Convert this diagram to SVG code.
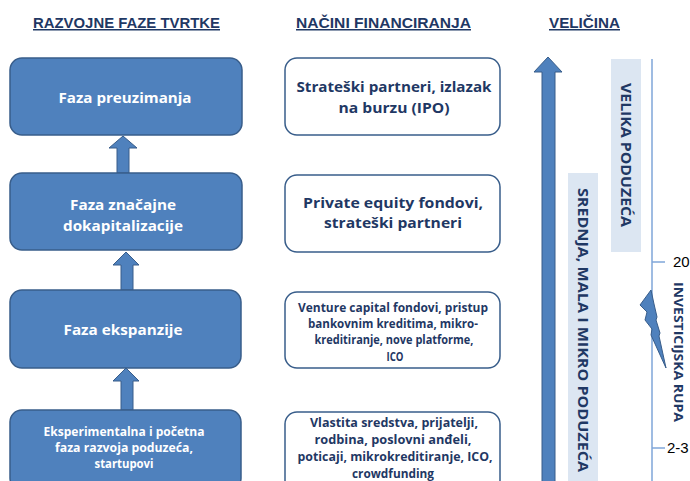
<svg xmlns="http://www.w3.org/2000/svg" width="690" height="481" viewBox="0 0 690 481">
<style>
.title{font-family:"Liberation Sans",Arial,sans-serif;font-weight:bold;font-size:15px;fill:#1F3864;text-decoration:underline;}
.phase{fill:#4F81BD;stroke:#385D8A;stroke-width:1.5;}
.fin{fill:#FFFFFF;stroke:#385D8A;stroke-width:1.5;}
.wt{font-family:"Open Sans","Liberation Sans",sans-serif;font-weight:bold;fill:#FFFFFF;text-anchor:middle;}
.bt{font-family:"Open Sans","Liberation Sans",sans-serif;font-weight:bold;fill:#1F3864;text-anchor:middle;}
.arrow{fill:#4F81BD;stroke:#385D8A;stroke-width:1;}
.band{fill:#DCE6F2;}
.vt{font-family:"Open Sans","Liberation Sans",sans-serif;font-weight:bold;fill:#1F3864;}
.num{font-family:"Liberation Sans",Arial,sans-serif;font-size:15px;fill:#000000;}
</style>

<g id="titles">
<text class="title" x="33" y="28" textLength="187" lengthAdjust="spacingAndGlyphs">RAZVOJNE FAZE TVRTKE</text>
<text class="title" x="296" y="28" textLength="175" lengthAdjust="spacingAndGlyphs">NAČINI FINANCIRANJA</text>
<text class="title" x="549" y="28" textLength="71" lengthAdjust="spacingAndGlyphs">VELIČINA</text>
</g>

<g id="connectors">
<polygon class="arrow" points="117,173 117,148 109,148 123,136 137,148 129,148 129,173"/>
<polygon class="arrow" points="121,290 121,265 113,265 126,252 139,265 133,265 133,290"/>
<polygon class="arrow" points="121,410 121,381 113,381 126,368 139,381 133,381 133,410"/>
</g>

<g id="phase1">
<rect class="phase" x="10" y="58" width="232" height="77" rx="12"/>
<text class="wt" x="125" y="103" font-size="15" textLength="133" lengthAdjust="spacingAndGlyphs">Faza preuzimanja</text>
</g>
<g id="phase2">
<rect class="phase" x="10" y="173" width="232" height="77" rx="12"/>
<text class="wt" x="123" y="210" font-size="15" textLength="106" lengthAdjust="spacingAndGlyphs">Faza značajne</text>
<text class="wt" x="123" y="231" font-size="15" textLength="120" lengthAdjust="spacingAndGlyphs">dokapitalizacije</text>
</g>
<g id="phase3">
<rect class="phase" x="10" y="290" width="231" height="78" rx="12"/>
<text class="wt" x="123" y="335" font-size="15" textLength="119" lengthAdjust="spacingAndGlyphs">Faza ekspanzije</text>
</g>
<g id="phase4">
<rect class="phase" x="10" y="410" width="231" height="80" rx="12"/>
<text class="wt" x="124" y="436" font-size="12" textLength="161" lengthAdjust="spacingAndGlyphs">Eksperimentalna i početna</text>
<text class="wt" x="124" y="452" font-size="12" textLength="138" lengthAdjust="spacingAndGlyphs">faza razvoja poduzeća,</text>
<text class="wt" x="124" y="468" font-size="12" textLength="59" lengthAdjust="spacingAndGlyphs">startupovi</text>
</g>

<g id="fin1">
<rect class="fin" x="285" y="58" width="215" height="77" rx="12"/>
<text class="bt" x="394" y="92" font-size="15" textLength="195" lengthAdjust="spacingAndGlyphs">Strateški partneri, izlazak</text>
<text class="bt" x="394" y="113" font-size="15" textLength="111" lengthAdjust="spacingAndGlyphs">na burzu (IPO)</text>
</g>
<g id="fin2">
<rect class="fin" x="285" y="175" width="215" height="77" rx="12"/>
<text class="bt" x="393" y="208" font-size="15" textLength="180" lengthAdjust="spacingAndGlyphs">Private equity fondovi,</text>
<text class="bt" x="393" y="228" font-size="15" textLength="138" lengthAdjust="spacingAndGlyphs">strateški partneri</text>
</g>
<g id="fin3">
<rect class="fin" x="285" y="292" width="215" height="76" rx="12"/>
<text class="bt" x="393" y="312" font-size="12.5" textLength="190" lengthAdjust="spacingAndGlyphs">Venture capital fondovi, pristup</text>
<text class="bt" x="393" y="328" font-size="12.5" textLength="170" lengthAdjust="spacingAndGlyphs">bankovnim kreditima, mikro-</text>
<text class="bt" x="394" y="344" font-size="12.5" textLength="159" lengthAdjust="spacingAndGlyphs">kreditiranje, nove platforme,</text>
<text class="bt" x="395" y="361" font-size="12.5" textLength="17" lengthAdjust="spacingAndGlyphs">ICO</text>
</g>
<g id="fin4">
<rect class="fin" x="285" y="412" width="215" height="80" rx="12"/>
<text class="bt" x="394" y="427" font-size="12.5" textLength="168" lengthAdjust="spacingAndGlyphs">Vlastita sredstva, prijatelji,</text>
<text class="bt" x="393" y="444" font-size="12.5" textLength="157" lengthAdjust="spacingAndGlyphs">rodbina, poslovni anđeli,</text>
<text class="bt" x="395" y="461" font-size="12.5" textLength="195" lengthAdjust="spacingAndGlyphs">poticaji, mikrokreditiranje, ICO,</text>
<text class="bt" x="393" y="478" font-size="12.5" textLength="82" lengthAdjust="spacingAndGlyphs">crowdfunding</text>
</g>

<g id="size-arrow">
<polygon class="arrow" points="542,490 542,72 534,72 548,57 562,72 555,72 555,490"/>
</g>

<g id="large">
<rect class="band" x="611" y="59" width="30" height="193"/>
<text class="vt" transform="translate(621,83) rotate(90)" font-size="14" textLength="144" lengthAdjust="spacingAndGlyphs">VELIKA PODUZEĆA</text>
</g>
<g id="sme">
<rect class="band" x="568" y="173" width="30" height="310"/>
<text class="vt" transform="translate(578,188) rotate(90)" font-size="14" textLength="284" lengthAdjust="spacingAndGlyphs">SREDNJA, MALA I MIKRO PODUZEĆA</text>
</g>

<g id="scale">
<line x1="652" y1="59" x2="652" y2="481" stroke="#7FA6D8" stroke-width="1.5"/>
<line x1="652" y1="262" x2="665" y2="262" stroke="#7FA6D8" stroke-width="1.5"/>
<line x1="652" y1="448" x2="665" y2="448" stroke="#7FA6D8" stroke-width="1.5"/>
<text class="num" x="673" y="267">20</text>
<text class="num" x="667" y="453">2-3</text>
</g>

<g id="gap">
<polygon class="arrow" points="651,290 640,305 647,312 645,320 652,329 651,335 666,368 659,336 660,333 656,320 657,317 654,304"/>
<text class="vt" transform="translate(674,282) rotate(90)" font-size="13" textLength="140" lengthAdjust="spacingAndGlyphs">INVESTICIJSKA RUPA</text>
</g>
</svg>
